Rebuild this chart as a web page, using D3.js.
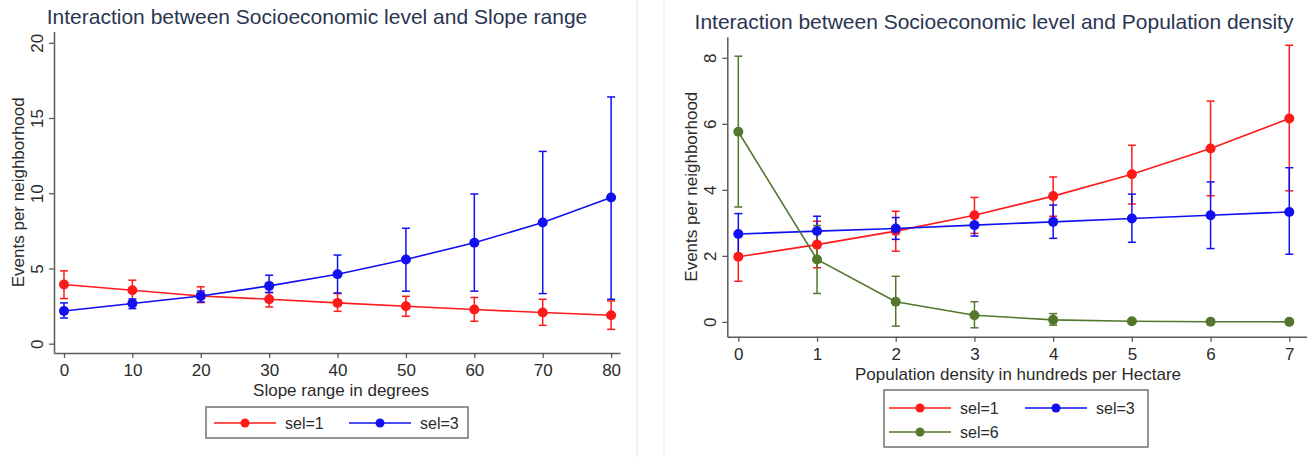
<!DOCTYPE html>
<html>
<head>
<meta charset="utf-8">
<script src="https://cdn.jsdelivr.net/npm/d3@7"></script>
<style>
  html, body { margin: 0; padding: 0; background: #fff; }
  svg { display: block; font-family: "Liberation Sans", Arial, sans-serif; }
</style>
</head>
<body>
<svg id="chart" width="1313" height="457"></svg>
<script>
// ---------- Data ----------
const slopeX = [0, 10, 20, 30, 40, 50, 60, 70, 80];
const slopeSel1 = [3.93, 3.55, 3.17, 2.95, 2.71, 2.49, 2.27, 2.07, 1.89];
const slopeSel1Lo = [3.0, 2.84, 2.73, 2.44, 2.15, 1.82, 1.49, 1.22, 0.95];
const slopeSel1Hi = [4.84, 4.22, 3.78, 3.4, 3.33, 3.15, 3.07, 2.95, 2.84];
const slopeSel3 = [2.17, 2.67, 3.17, 3.84, 4.62, 5.6, 6.71, 8.05, 9.72];
const slopeSel3Lo = [1.71, 2.33, 2.77, 3.4, 3.37, 3.49, 3.49, 3.33, 2.95];
const slopeSel3Hi = [2.71, 2.97, 3.5, 4.55, 5.89, 7.67, 9.95, 12.78, 16.4];
const slopeYTicks = [0, 5, 10, 15, 20];
const slopeXTicks = [0, 10, 20, 30, 40, 50, 60, 70, 80];

const popX = [0, 1, 2, 3, 4, 5, 6, 7];
const popSel1 = [1.97, 2.34, 2.75, 3.23, 3.81, 4.47, 5.25, 6.16];
const popSel1Lo = [1.23, 1.64, 2.14, 2.68, 3.2, 3.57, 3.82, 3.97];
const popSel1Hi = [2.72, 3.05, 3.35, 3.77, 4.39, 5.35, 6.69, 8.38];
const popSel3 = [2.66, 2.75, 2.83, 2.93, 3.03, 3.13, 3.23, 3.33];
const popSel3Lo = [2.06, 2.3, 2.5, 2.6, 2.53, 2.41, 2.22, 2.05];
const popSel3Hi = [3.28, 3.2, 3.16, 3.26, 3.54, 3.87, 4.24, 4.67];
const popSel6 = [5.76, 1.89, 0.61, 0.2, 0.06, 0.02, 0.005, 0.0];
const popSel6Lo = [3.48, 0.86, -0.13, -0.18, -0.1, -0.03, -0.01, -0.005];
const popSel6Hi = [8.05, 2.92, 1.38, 0.61, 0.25, 0.07, 0.02, 0.005];
const popYTicks = [0, 2, 4, 6, 8];
const popXTicks = [0, 1, 2, 3, 4, 5, 6, 7];

const seriesNames = ["sel=1", "sel=3", "sel=6"];
const seriesColors = ["#ff1a1a", "#1010f0", "#52772d"];

// ---------- Helpers ----------
const svg = d3.select("#chart");
const FONT = '"Liberation Sans", Arial, sans-serif';
const AXIS_COLOR = "#5a5a5a";
const TEXT_COLOR = "#2b2b2b";
const TITLE_COLOR = "#2a3552";

// panel separators
svg.append("line").attr("x1", 637).attr("x2", 637).attr("y1", 0).attr("y2", 457)
  .attr("stroke", "#e4e4e4").attr("stroke-width", 1);
svg.append("line").attr("x1", 664).attr("x2", 664).attr("y1", 0).attr("y2", 457)
  .attr("stroke", "#ececec").attr("stroke-width", 1);

function drawPanel(cfg) {
  const g = svg.append("g");
  const x = cfg.x, y = cfg.y;

  // title
  g.append("text")
    .attr("x", cfg.titleX).attr("y", cfg.titleY)
    .attr("text-anchor", "middle")
    .attr("font-size", 21).attr("fill", TITLE_COLOR)
    .text(cfg.title);

  // y axis
  const yAxis = d3.axisLeft(y).tickValues(cfg.yTicks).tickSize(5).tickSizeOuter(0).tickFormat(d3.format("d"));
  const ya = g.append("g").attr("transform", `translate(${x.range()[0]},0)`).call(yAxis);
  ya.select(".domain").attr("stroke", AXIS_COLOR).attr("stroke-width", 1.5);
  ya.selectAll(".tick line").attr("stroke", AXIS_COLOR).attr("stroke-width", 1.3);
  ya.selectAll(".tick text")
    .attr("x", null).attr("dy", null)
    .attr("transform", "translate(-17,0) rotate(-90)")
    .attr("text-anchor", "middle").attr("dominant-baseline", "central")
    .attr("font-size", 17).attr("font-family", FONT).attr("fill", TEXT_COLOR);

  // x axis
  const xAxis = d3.axisBottom(x).tickValues(cfg.xTicks).tickSize(5).tickSizeOuter(0).tickFormat(d3.format("d"));
  const xa = g.append("g").attr("transform", `translate(0,${y.range()[0]})`).call(xAxis);
  xa.select(".domain").attr("stroke", AXIS_COLOR).attr("stroke-width", 1.5);
  xa.selectAll(".tick line").attr("stroke", AXIS_COLOR).attr("stroke-width", 1.3);
  xa.selectAll(".tick text")
    .attr("y", 9).attr("dy", "0.85em")
    .attr("font-size", 17).attr("font-family", FONT).attr("fill", TEXT_COLOR);

  // axis titles
  const xr = x.range(), yr = y.range();
  g.append("text")
    .attr("x", cfg.xTitleX).attr("y", yr[0] + 43)
    .attr("text-anchor", "middle").attr("font-size", 17).attr("fill", TEXT_COLOR)
    .text(cfg.xTitle);
  g.append("text")
    .attr("transform", `translate(${xr[0] - 36},${(yr[0] + yr[1]) / 2}) rotate(-90)`)
    .attr("text-anchor", "middle").attr("dominant-baseline", "central")
    .attr("font-size", 17).attr("fill", TEXT_COLOR)
    .text("Events per neighborhood");

  // error bars
  cfg.series.forEach(s => {
    const eg = g.append("g").attr("stroke", s.color).attr("stroke-width", 1.5).attr("fill", "none");
    cfg.xs.forEach((xv, i) => {
      const px = x(xv);
      eg.append("line").attr("x1", px).attr("x2", px).attr("y1", y(s.lo[i])).attr("y2", y(s.hi[i]));
      eg.append("line").attr("x1", px - 4).attr("x2", px + 4).attr("y1", y(s.lo[i])).attr("y2", y(s.lo[i]));
      eg.append("line").attr("x1", px - 4).attr("x2", px + 4).attr("y1", y(s.hi[i])).attr("y2", y(s.hi[i]));
    });
  });

  // lines + markers
  cfg.series.forEach(s => {
    const line = d3.line().x((d, i) => x(cfg.xs[i])).y(d => y(d));
    g.append("path").datum(s.values).attr("d", line)
      .attr("fill", "none").attr("stroke", s.color).attr("stroke-width", 1.6);
    g.selectAll(null).data(s.values).enter().append("circle")
      .attr("cx", (d, i) => x(cfg.xs[i])).attr("cy", d => y(d)).attr("r", 5)
      .attr("fill", s.color);
  });

  // legend
  const L = cfg.legend;
  g.append("rect").attr("x", L.x).attr("y", L.y).attr("width", L.w).attr("height", L.h)
    .attr("fill", "#fff").attr("stroke", "#7a7a7a").attr("stroke-width", 1.6);
  cfg.series.forEach((s, i) => {
    const pos = L.items[i];
    g.append("line").attr("x1", pos[0]).attr("x2", pos[0] + 62).attr("y1", pos[1]).attr("y2", pos[1])
      .attr("stroke", s.color).attr("stroke-width", 1.5);
    g.append("circle").attr("cx", pos[0] + 31).attr("cy", pos[1]).attr("r", 4.5).attr("fill", s.color);
    g.append("text").attr("x", pos[0] + 71).attr("y", pos[1]).attr("dominant-baseline", "central")
      .attr("font-size", 16).attr("fill", TEXT_COLOR).text(seriesNames[i]);
  });
}

// ---------- Left panel ----------
const xL = d3.scaleLinear().domain([-1.46, 81.3]).range([54, 620]);
const yL = d3.scaleLinear().domain([-0.62, 20.75]).range([353, 31.5]);
drawPanel({
  x: xL, y: yL,
  xs: slopeX, xTicks: slopeXTicks, yTicks: slopeYTicks,
  title: "Interaction between Socioeconomic level and Slope range",
  titleX: 317, titleY: 24,
  xTitle: "Slope range in degrees", xTitleX: 341,
  series: [
    { values: slopeSel1, lo: slopeSel1Lo, hi: slopeSel1Hi, color: seriesColors[0] },
    { values: slopeSel3, lo: slopeSel3Lo, hi: slopeSel3Hi, color: seriesColors[1] }
  ],
  legend: { x: 206, y: 407, w: 262, h: 31, items: [[214, 423], [349, 423]] }
});

// ---------- Right panel ----------
const xR = d3.scaleLinear().domain([-0.14, 7.22]).range([727.3, 1306.6]);
const yR = d3.scaleLinear().domain([-0.45, 8.64]).range([336.7, 36.7]);
drawPanel({
  x: xR, y: yR,
  xs: popX, xTicks: popXTicks, yTicks: popYTicks,
  title: "Interaction between Socioeconomic level and Population density",
  titleX: 994, titleY: 29,
  xTitle: "Population density in hundreds per Hectare", xTitleX: 1018,
  series: [
    { values: popSel1, lo: popSel1Lo, hi: popSel1Hi, color: seriesColors[0] },
    { values: popSel3, lo: popSel3Lo, hi: popSel3Hi, color: seriesColors[1] },
    { values: popSel6, lo: popSel6Lo, hi: popSel6Hi, color: seriesColors[2] }
  ],
  legend: { x: 884, y: 390, w: 264, h: 57, items: [[889, 408], [1025, 408], [889, 432]] }
});
</script>
</body>
</html>
